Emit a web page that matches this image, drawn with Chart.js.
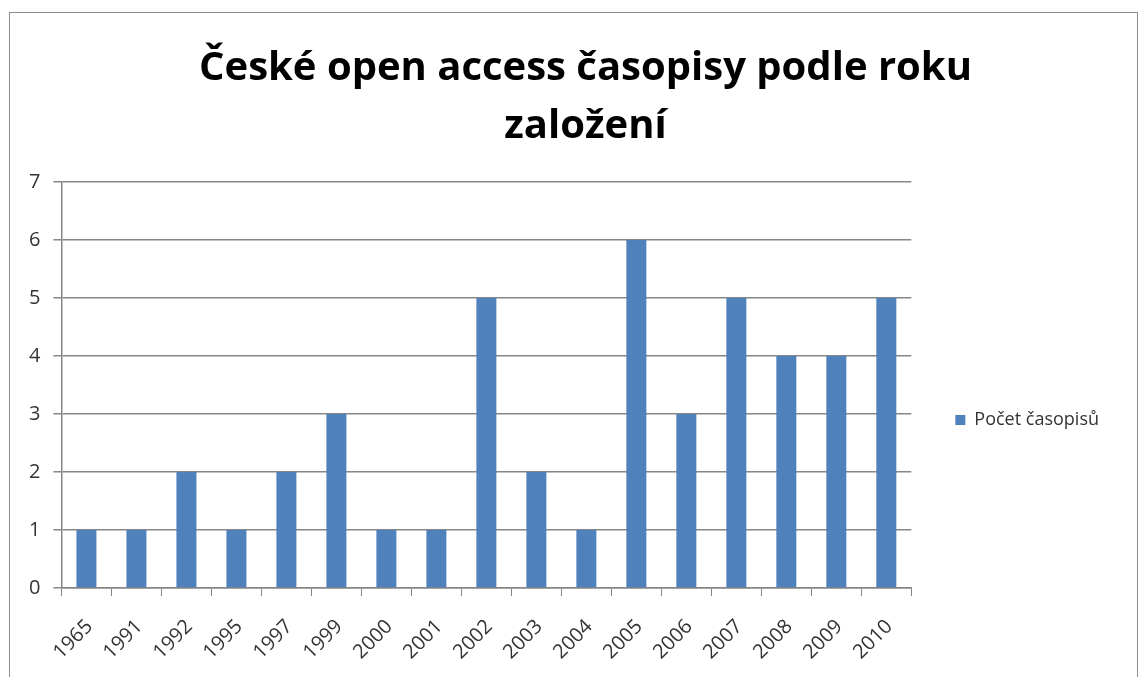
<!DOCTYPE html>
<html>
<head>
<meta charset="utf-8">
<script src="https://cdn.jsdelivr.net/npm/chart.js@4"></script>
<style>
  html, body { margin: 0; padding: 0; background: #fff; }
  #wrap { position: relative; width: 1147px; height: 677px; overflow: hidden; }
  #frame { position: absolute; left: 9px; top: 12px; width: 1127px; height: 700px; border: 1px solid #8c8c8c; }
  canvas { position: absolute; left: 0; top: 0; }
</style>
</head>
<body>
<div id="wrap">
  <div id="frame"></div>
  <canvas id="myChart" width="1147" height="677"></canvas>
</div>
<script>
const years = ['1965', '1991', '1992', '1995', '1997', '1999', '2000', '2001', '2002',
  '2003', '2004', '2005', '2006', '2007', '2008', '2009', '2010'];
const counts = [1, 1, 2, 1, 2, 3, 1, 1, 5, 2, 1, 6, 3, 5, 4, 4, 5];
const yTicks = [0, 1, 2, 3, 4, 5, 6, 7];

const gridColor = '#868686';
const textColor = '#333333';

const data = {
  labels: years,
  datasets: [{
    label: 'Počet časopisů',
    backgroundColor: '#4F81BD',
    borderWidth: 0,
    data: counts,
    barPercentage: 0.4,
    categoryPercentage: 1.0
  }]
};

// nudge the title a bit right, like in the original Excel chart
const titleShift = {
  id: 'titleShift',
  afterLayout(chart) {
    if (chart.titleBlock) {
      chart.titleBlock.left += 23;
      chart.titleBlock.right += 23;
    }
  }
};

const config = {
  type: 'bar',
  data: data,
  options: {
    responsive: false,
    animation: false,
    layout: {
      padding: { left: 16, right: 38, top: 40, bottom: 0 }
    },
    plugins: {
      title: {
        display: true,
        text: ['České open access časopisy podle roku', 'založení'],
        color: '#000',
        font: { family: 'Open Sans', weight: 'bold', size: 40, lineHeight: 1.45 },
        padding: { top: 0, bottom: 26 }
      },
      legend: {
        position: 'right',
        fullSize: false,
        title: {
          display: true,
          text: ' ',
          font: { size: 10, lineHeight: 1 },
          padding: { top: 60, bottom: 0 }
        },
        labels: {
          boxWidth: 10,
          boxHeight: 10,
          color: textColor,
          padding: 44,
          font: { family: 'Open Sans', size: 18 }
        }
      },
      tooltip: { enabled: false }
    },
    scales: {
      x: {
        afterFit: (axis) => { axis.height = 89; },
        grid: {
          drawOnChartArea: false,
          drawTicks: true,
          tickLength: 8,
          color: gridColor
        },
        border: { color: gridColor, width: 1.5 },
        ticks: {
          color: textColor,
          minRotation: 45,
          maxRotation: 45,
          padding: 19,
          labelOffset: 3,
          font: { family: 'Open Sans', size: 20 }
        }
      },
      y: {
        min: 0,
        max: 7,
        afterBuildTicks: (axis) => { axis.ticks = yTicks.map(v => ({ value: v })); },
        grid: {
          color: gridColor,
          lineWidth: 1.5,
          tickLength: 8
        },
        border: { color: gridColor, width: 1.5 },
        ticks: {
          color: textColor,
          padding: 13,
          font: { family: 'Open Sans', size: 20 }
        }
      }
    }
  },
  plugins: [titleShift]
};

const myChart = new Chart(document.getElementById('myChart'), config);
</script>
</body>
</html>
